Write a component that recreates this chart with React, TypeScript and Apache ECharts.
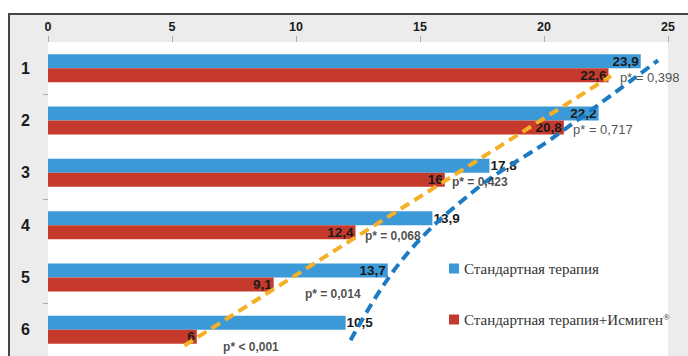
import React, { useEffect, useRef } from "react";
import * as echarts from "echarts";

const categories = ["1", "2", "3", "4", "5", "6"];
const xTicks = [0, 5, 10, 15, 20, 25];
const seriesNames = ["Стандартная терапия", "Стандартная терапия+Исмиген®"];
// drawn bar lengths (as in picture) and their printed labels
const blueValues = [23.9, 22.2, 17.8, 15.5, 13.7, 12.0];
const blueLabels = ["23,9", "22,2", "17,8", "13,9", "13,7", "10,5"];
const blueLabelInside = [true, true, false, false, true, false];
const redValues = [22.6, 20.8, 16.0, 12.4, 9.1, 6.0];
const redLabels = ["22,6", "20,8", "16", "12,4", "9,1", "6"];
// trend lines: [x value, row position (0..6)]
const orangeTrend = [
  [5.5, 5.8],
  [22.7, 0.65],
];
const blueTrend = [
  [12.2, 5.7],
  [14.3, 4.15],
  [17.3, 2.8],
  [20.3, 1.85],
  [24.6, 0.35],
];
// p-value annotations
const pTexts = ["p* = 0,398", "p* = 0,717", "p* = 0,423", "p* = 0,068", "p* = 0,014", "p* < 0,001"];
const pX = [23.06, 21.17, 16.29, 12.78, 10.36, 7.06];
const pY = [0.68, 1.68, 2.67, 3.7, 4.81, 5.82];
const pBold = [false, false, true, true, true, true];

const SANS = "'Liberation Sans', Arial, sans-serif";
const SERIF = "'Liberation Serif', 'DejaVu Serif', serif";
const BLUE = "#3b99d8";
const RED = "#c53a2d";

export default function App() {
  const ref = useRef<HTMLDivElement>(null);
  useEffect(() => {
    if (!ref.current) return;
    const chart = echarts.init(ref.current, undefined, { renderer: "svg" });
    const labelBase = {
      show: true,
      fontFamily: SANS,
      fontWeight: "bold" as const,
      fontSize: 13.5,
      color: "#1a1a1a",
    };
    chart.setOption({
      animation: false,
      backgroundColor: "#ffffff",
      graphic: [
        {
          type: "rect",
          z: -10,
          shape: { x: 9, y: 14, width: 700, height: 360 },
          style: { fill: "#ececec", stroke: "#454545", lineWidth: 2 },
        },
      ],
      grid: {
        left: 48,
        top: 42,
        width: 620,
        height: 315,
        show: true,
        backgroundColor: "#ffffff",
        borderWidth: 0,
      },
      legend: {
        data: seriesNames,
        orient: "vertical",
        left: 444,
        top: 256,
        itemWidth: 10,
        itemHeight: 10,
        itemGap: 36,
        icon: "rect",
        formatter: (name: string) =>
          name.endsWith("®") ? name.slice(0, -1) + "{sup|®}" : name,
        textStyle: {
          fontFamily: SERIF,
          fontSize: 15,
          color: "#333",
          rich: {
            sup: { fontSize: 9, fontFamily: SERIF, color: "#333", verticalAlign: "top", padding: [0, 0, 6, 0] },
          },
        },
      },
      xAxis: [
        {
          type: "value",
          position: "top",
          min: 0,
          max: 25,
          interval: 5,
          axisLine: { show: false },
          axisTick: { show: true, length: 6, lineStyle: { color: "#aaaaaa" } },
          splitLine: { show: false },
          axisLabel: {
            margin: 9,
            fontFamily: SANS,
            fontWeight: "bold",
            fontSize: 12.5,
            color: "#1a1a1a",
            formatter: (v: number) => (xTicks.includes(v) ? String(v) : ""),
          },
        },
      ],
      yAxis: [
        {
          type: "category",
          data: categories,
          inverse: true,
          axisLine: { show: false },
          axisTick: {
            show: true,
            length: 5,
            lineStyle: { color: "#aaaaaa" },
            interval: (i: number) => i % 2 === 1,
          },
          axisLabel: {
            margin: 18,
            fontFamily: SANS,
            fontWeight: "bold",
            fontSize: 16,
            color: "#1a1a1a",
          },
        },
        {
          type: "value",
          min: 0,
          max: 6,
          inverse: true,
          show: false,
        },
      ],
      series: [
        {
          name: seriesNames[0],
          type: "bar",
          yAxisIndex: 0,
          barWidth: 14,
          barGap: "0%",
          itemStyle: { color: BLUE },
          data: blueValues.map((v, i) => ({
            value: v,
            label: {
              ...labelBase,
              position: blueLabelInside[i] ? "insideRight" : "right",
              distance: blueLabelInside[i] ? 2 : 1,
              formatter: blueLabels[i],
            },
          })),
        },
        {
          name: seriesNames[1],
          type: "bar",
          yAxisIndex: 0,
          barWidth: 14,
          barGap: "0%",
          itemStyle: { color: RED },
          data: redValues.map((v, i) => ({
            value: v,
            label: {
              ...labelBase,
              position: "insideRight",
              distance: 2,
              formatter: redLabels[i],
            },
          })),
        },
        {
          name: "trendOrange",
          type: "line",
          yAxisIndex: 1,
          z: 10,
          symbol: "none",
          lineStyle: { color: "#f5b027", width: 4, type: [10, 6] },
          data: orangeTrend,
        },
        {
          name: "trendBlue",
          type: "line",
          yAxisIndex: 1,
          z: 10,
          smooth: 0.4,
          symbol: "none",
          lineStyle: { color: "#1d7bc3", width: 4, type: [10, 6] },
          data: blueTrend,
        },
        {
          name: "pvalues",
          type: "scatter",
          yAxisIndex: 1,
          z: 11,
          symbolSize: 0,
          silent: true,
          data: pX.map((x, i) => ({
            value: [x, pY[i]],
            label: {
              show: true,
              position: "right",
              distance: 0,
              fontFamily: SANS,
              fontSize: pBold[i] ? 12 : 13,
              fontWeight: pBold[i] ? "bold" : "normal",
              color: "#222",
              formatter: pTexts[i],
            },
          })),
        },
      ],
    });
    return () => chart.dispose();
  }, []);
  return (
    <div
      ref={ref}
      style={{ position: "fixed", left: 0, top: 0, width: 688, height: 356 }}
    />
  );
}
